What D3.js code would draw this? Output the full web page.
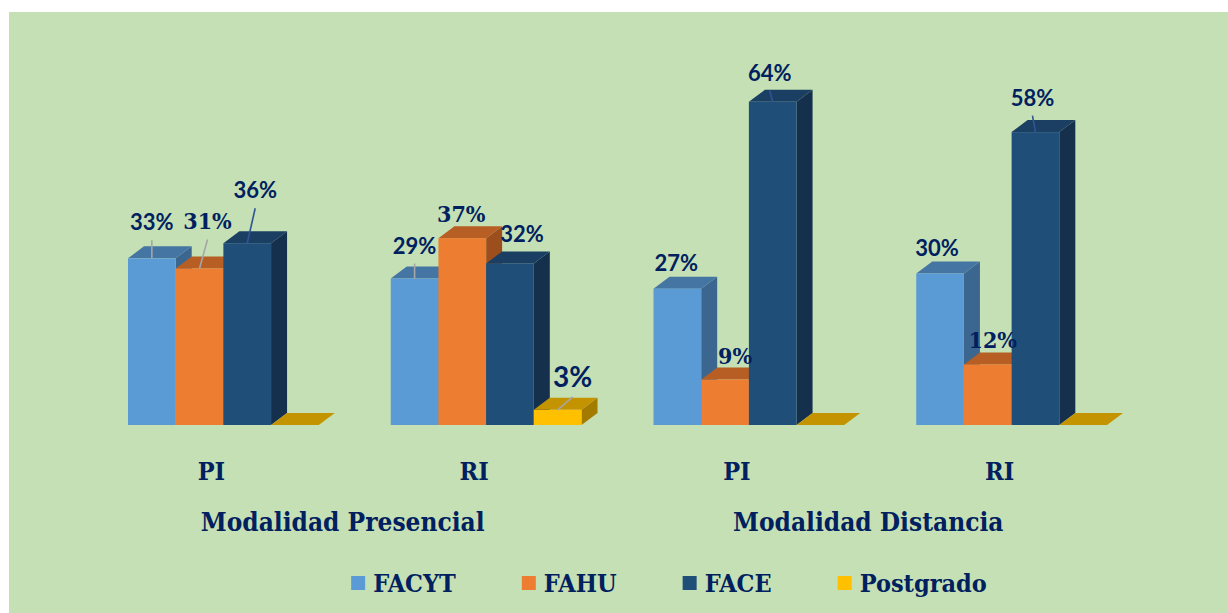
<!DOCTYPE html>
<html>
<head>
<meta charset="utf-8">
<script src="https://cdn.jsdelivr.net/npm/d3@7"></script>
<style>
  body { margin: 0; background: #ffffff; }
  .serif { font-family: 'DejaVu Serif Condensed', 'DejaVu Serif', serif; font-stretch: condensed; font-weight: bold; }
  .sans { font-family: Lato, 'Open Sans', sans-serif; font-weight: bold; }
</style>
</head>
<body>
<div class="canvas"></div>
<script>
// data
const modalities = ['Modalidad Presencial', 'Modalidad Distancia'];
const subCats = ['PI', 'RI', 'PI', 'RI'];
const series = ['FACYT', 'FAHU', 'FACE', 'Postgrado'];
const facyt = [33, 29, 27, 30];
const fahu = [31, 37, 9, 12];
const face = [36, 32, 64, 58];
const postgrado = [0, 3, 0, 0];

const values = [facyt, fahu, face, postgrado];

const width = 1228, height = 613;
const baseY = 425;
const depthX = 16, depthY = 12;

// colours per series: front, top, side
const colors = [
    { front: '#5b9bd5', top: '#4575a3', side: '#3b6690' },
    { front: '#ed7d31', top: '#b65e24', side: '#9c4f1c' },
    { front: '#1f4e79', top: '#1a3f62', side: '#15304d' },
    { front: '#ffc000', top: '#c49400', side: '#a27b00' }
];
const textColor = '#002060';

// label nudges (dx from bar centre, gap above bar top, leader colour)
const labelNudge = [
    [[0, 28, 'gray'], [0, 25, 'gray'], [-1, 18, null], [-3, 18, null]],
    [[8, 39, 'gray'], [-1, 16, null], [10, 16, null], [5, 16, null]],
    [[8, 45, 'blue'], [12, 21, null], [-3, 21, 'blue'], [-3, 26.5, 'blue']],
    [[0, 0, null], [15, 23, 'gray'], [0, 0, null], [0, 0, null]]
];
const leaderColors = { gray: '#a6a6a6', blue: '#2f5597' };

const svg = d3.select('.canvas').append('svg')
    .attr('width', width)
    .attr('height', height);

svg.append('rect')
    .attr('x', 9).attr('y', 12)
    .attr('width', width - 9).attr('height', height - 12)
    .attr('fill', '#c5e0b4');

const groupIdx = subCats.map((d, i) => i);

const x0 = d3.scaleBand()
    .domain(groupIdx)
    .range([92, 1143])
    .paddingInner(0.274)
    .paddingOuter(0.137);

const x1 = d3.scaleBand()
    .domain(series)
    .range([0, x0.bandwidth()]);

const y = d3.scaleLinear()
    .domain([0, 70])
    .range([baseY, baseY - 70 * 5.05]);

const bw = x1.bandwidth();

// bars, drawn left to right so nearer fronts cover sides
const bars = svg.append('g');
groupIdx.forEach(g => {
    series.forEach((s, si) => {
        const v = values[si][g];
        const x = x0(g) + x1(s);
        const top = y(v);
        const c = colors[si];
        if (v > 0) {
            bars.append('path')
                .attr('d', `M${x + bw},${top} L${x + bw + depthX},${top - depthY} L${x + bw + depthX},${baseY - depthY} L${x + bw},${baseY} Z`)
                .attr('fill', c.side);
        }
        bars.append('path')
            .attr('d', `M${x},${top} L${x + depthX},${top - depthY} L${x + bw + depthX},${top - depthY} L${x + bw},${top} Z`)
            .attr('fill', c.top);
        if (v > 0) {
            bars.append('rect')
                .attr('x', x)
                .attr('y', top)
                .attr('width', bw)
                .attr('height', baseY - top)
                .attr('fill', c.front);
        }
    });
});

// data labels
const labels = svg.append('g');
groupIdx.forEach(g => {
    series.forEach((s, si) => {
        const v = values[si][g];
        if (v <= 0) return;
        const [dx, gap, leader] = labelNudge[si][g];
        const cx = x0(g) + x1(s) + bw / 2;
        const top = y(v);
        const tx = cx + dx, ty = top - gap;
        if (leader) {
            labels.append('line')
                .attr('x1', tx).attr('y1', ty + 10)
                .attr('x2', cx).attr('y2', top)
                .attr('stroke', leaderColors[leader])
                .attr('stroke-width', 1.6);
        }
        labels.append('text')
            .attr('class', si === 1 ? 'serif' : 'sans')
            .attr('x', tx)
            .attr('y', ty)
            .attr('text-anchor', 'middle')
            .attr('font-size', si === 1 ? '23px' : (si === 3 ? '28px' : '22px'))
            .attr('fill', textColor)
            .text(v + '%');
    });
});

// category labels
svg.append('g').selectAll('text')
    .data(subCats)
    .enter()
    .append('text')
    .attr('class', 'serif')
    .attr('x', (d, i) => x0(i) + x0.bandwidth() / 2 - 12)
    .attr('y', 480)
    .attr('text-anchor', 'middle')
    .attr('font-size', '25px')
    .attr('fill', textColor)
    .text(d => d);

svg.append('g').selectAll('text')
    .data(modalities)
    .enter()
    .append('text')
    .attr('class', 'serif')
    .attr('x', (d, i) => (x0(i * 2) + x0(i * 2 + 1) + x0.bandwidth()) / 2 - 12)
    .attr('y', 531)
    .attr('text-anchor', 'middle')
    .attr('font-size', '26px')
    .attr('fill', textColor)
    .text(d => d);

// legend
const legend = svg.append('g');
let lx = 0;
series.forEach((s, si) => {
    const item = legend.append('g').attr('transform', `translate(${lx},0)`);
    item.append('rect')
        .attr('x', 0).attr('y', 576)
        .attr('width', 14).attr('height', 14)
        .attr('fill', colors[si].front);
    const t = item.append('text')
        .attr('class', 'serif')
        .attr('x', 22).attr('y', 592)
        .attr('font-size', '25px')
        .attr('fill', textColor)
        .text(s);
    lx += 22 + t.node().getComputedTextLength() + 66;
});
const legendWidth = lx - 66;
legend.attr('transform', `translate(${669 - legendWidth / 2},0)`);
</script>
</body>
</html>
